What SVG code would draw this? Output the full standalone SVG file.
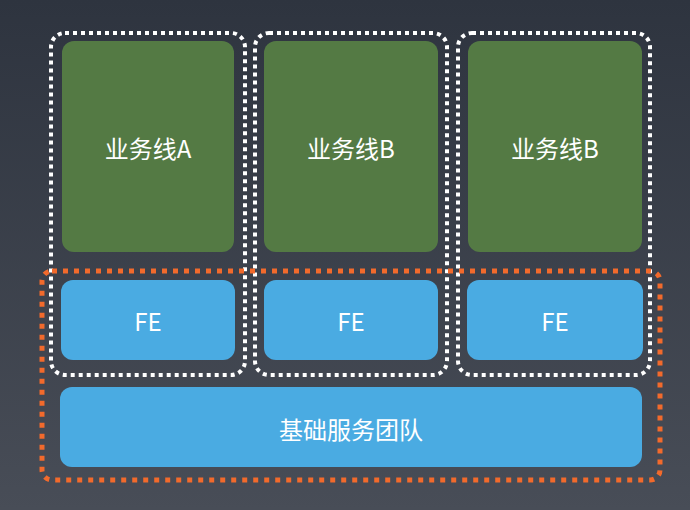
<svg xmlns="http://www.w3.org/2000/svg" width="690" height="510" viewBox="0 0 690 510">
<defs>
<linearGradient id="bg" x1="0" y1="0" x2="0" y2="1">
<stop offset="0" stop-color="#2e343f"/>
<stop offset="1" stop-color="#484d57"/>
</linearGradient>
<style>
.green{fill:#547a44}
.blue{fill:#4aabe2}
.wdot{fill:none;stroke:#ffffff;stroke-width:4;stroke-dasharray:4 4}
.odot{fill:none;stroke:#f26a2c;stroke-width:5;stroke-dasharray:5 6}
.t{fill:#ffffff;font-family:"Noto Sans CJK SC","Noto Sans",sans-serif;font-weight:400;text-anchor:middle;dominant-baseline:central}
.big{font-size:24px}
.fe{font-size:24px}
</style>
</defs>
<rect width="690" height="510" fill="url(#bg)"/>
<g id="lineA">
<rect class="green" x="62" y="41" width="172" height="211" rx="12"/>
<text class="t big" x="148" y="147">业务线A</text>
</g>
<g id="lineB1">
<rect class="green" x="264" y="41" width="174" height="211" rx="12"/>
<text class="t big" x="351" y="147">业务线B</text>
</g>
<g id="lineB2">
<rect class="green" x="468" y="41" width="174" height="211" rx="12"/>
<text class="t big" x="555" y="147">业务线B</text>
</g>
<g id="fe1">
<rect class="blue" x="61" y="280" width="174" height="80" rx="12"/>
<text class="t fe" x="148" y="320">FE</text>
</g>
<g id="fe2">
<rect class="blue" x="264" y="280" width="174" height="80" rx="12"/>
<text class="t fe" x="351" y="320">FE</text>
</g>
<g id="fe3">
<rect class="blue" x="467" y="280" width="176" height="80" rx="12"/>
<text class="t fe" x="555" y="320">FE</text>
</g>
<g id="base">
<rect class="blue" x="60" y="387" width="582" height="80" rx="12"/>
<text class="t big" x="351" y="428">基础服务团队</text>
</g>
<g id="groups">
<rect class="wdot" x="51" y="33" width="194" height="342" rx="14"/>
<rect class="wdot" x="255" y="33" width="192" height="342" rx="14"/>
<rect class="wdot" x="458" y="33" width="192" height="342" rx="14"/>
<rect class="odot" x="42" y="271" width="618" height="209" rx="10"/>
</g>
</svg>
